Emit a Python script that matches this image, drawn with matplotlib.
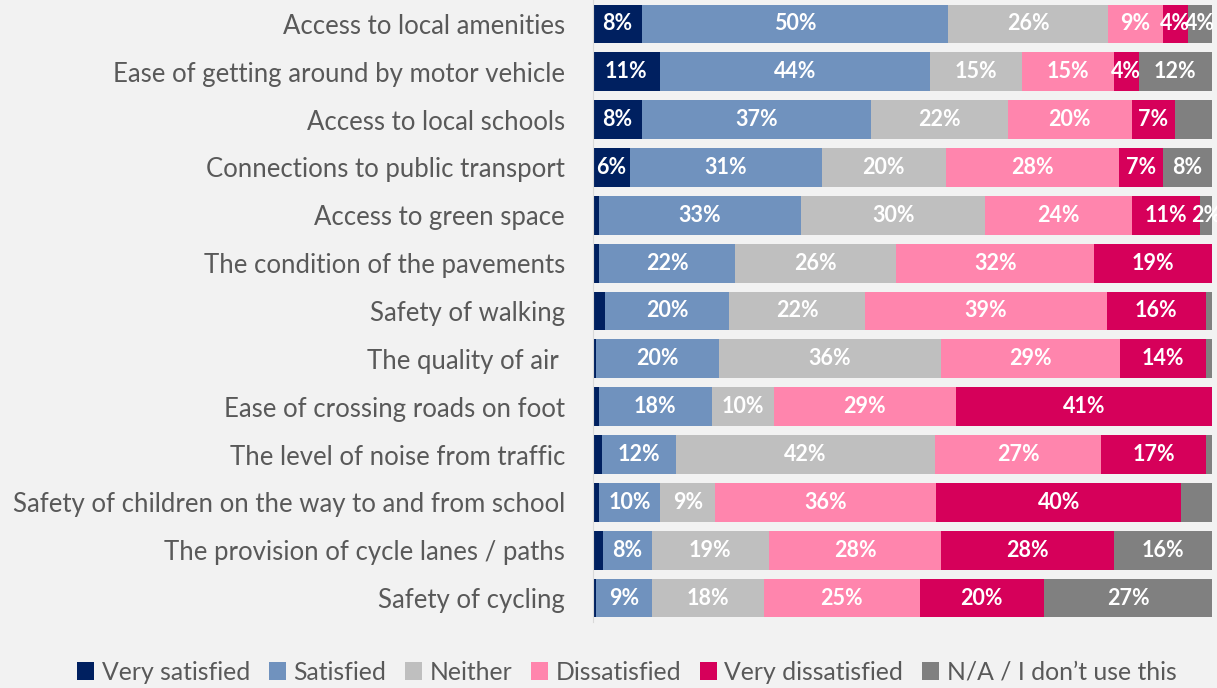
import numpy as np
from matplotlib import pyplot as plt

categories = ['Access to local amenities',
              'Ease of getting around by motor vehicle',
              'Access to local schools',
              'Connections to public transport',
              'Access to green space',
              'The condition of the pavements',
              'Safety of walking',
              'The quality of air ',
              'Ease of crossing roads on foot',
              'The level of noise from traffic',
              'Safety of children on the way to and from school',
              'The provision of cycle lanes / paths',
              'Safety of cycling']

series = ['Very satisfied', 'Satisfied', 'Neither', 'Dissatisfied',
          'Very dissatisfied', 'N/A / I don\u2019t use this']
colors = ['#002060', '#7092BE', '#BFBFBF', '#FF85AD', '#D6005A', '#808080']

very_satisfied    = [8, 11, 8, 6, 1, 1, 2, 0.5, 1, 1.5, 1, 1.6, 0.5]
satisfied         = [50, 44, 37, 31, 33, 22, 20, 20, 18, 12, 10, 8, 9]
neither           = [26, 15, 22, 20, 30, 26, 22, 36, 10, 42, 9, 19, 18]
dissatisfied      = [9, 15, 20, 28, 24, 32, 39, 29, 29, 27, 36, 28, 25]
very_dissatisfied = [4, 4, 7, 7, 11, 19, 16, 14, 41, 17, 40, 28, 20]
not_applicable    = [4, 12, 6, 8, 2, 0, 1, 1, 0, 1, 5, 16, 27]

# segments whose labels are not shown in the original
no_label = [(2, 5), (10, 5), (6, 0)]

data = np.array([very_satisfied, satisfied, neither, dissatisfied,
                 very_dissatisfied, not_applicable], dtype=float)
shares = data / data.sum(axis=0)   # 100% stacked like Excel

bg = '#F2F2F2'
fig = plt.figure(figsize=(12.17, 6.88), dpi=100, facecolor=bg)
ax = fig.add_axes([0.487, 0.096, 0.509, 0.904], facecolor=bg)

y = np.arange(len(categories))
left = np.zeros(len(categories))
for i, name in enumerate(series):
    ax.barh(y, shares[i], left=left, height=0.81, color=colors[i],
            label=name, edgecolor='none')
    for j in range(len(categories)):
        v = data[i, j]
        if v >= 2 and (j, i) not in no_label:
            ax.text(left[j] + shares[i, j] / 2, y[j], '%d%%' % round(v),
                    ha='center', va='center', color='white',
                    fontsize=15.5, fontweight='bold', family='Lato')
    left += shares[i]

ax.set_xlim(0, 1)
ax.set_ylim(len(categories) - 0.5, -0.5)
ax.set_yticks(y)
ax.set_yticklabels(categories, fontsize=18.5, color='#595959', family='Lato')
ax.set_xticks([])
ax.tick_params(axis='y', length=0, pad=20)
for s in ['top', 'right', 'bottom']:
    ax.spines[s].set_visible(False)
ax.spines['left'].set_color('#D9D9D9')

fig.legend(loc='lower center', bbox_to_anchor=(0.515, -0.026), ncol=6,
           frameon=False, prop={'family': 'Lato', 'size': 17.8},
           labelcolor='#595959', handlelength=0.7, handleheight=0.7,
           handletextpad=0.3, columnspacing=0.75)

fig.savefig('out.png', dpi=100, facecolor=bg)
